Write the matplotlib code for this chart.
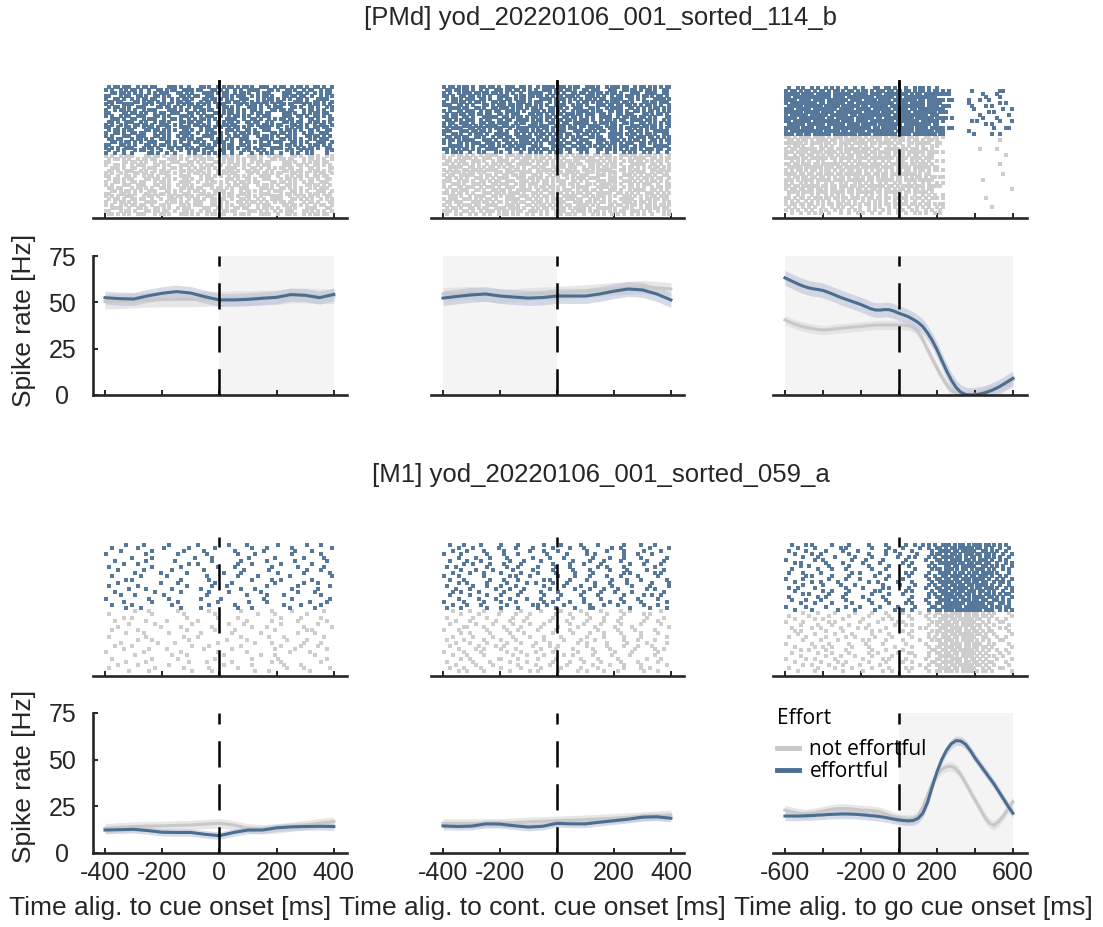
import matplotlib.pyplot as plt
from matplotlib.lines import Line2D
import numpy as np

plt.rcParams['font.family'] = ['Liberation Sans', 'DejaVu Sans']

EFF = '#4b6d8f'
NOT = '#c8c8c8'
EFF_DOT = '#56789a'
NOT_DOT = '#cdcdcd'
EFF_BAND = '#b7bed6'
NOT_BAND = '#dedede'
SHADE = '#f4f4f4'
INK = '#262626'

# ---- smoothed firing rates (Hz) ----
t_cue = np.arange(-400, 401, 50)
t_go = np.arange(-600, 601, 25)

pmd_cue_eff = [52.5, 52.0, 51.8, 53.5, 54.9, 55.8, 55.0, 53.0, 51.3, 51.3, 51.6, 52.2, 52.7, 54.2, 53.8, 52.5, 54.3]
pmd_cue_not = [50.4, 50.6, 51.0, 51.4, 51.5, 51.6, 51.6, 51.8, 52.0, 52.2, 52.3, 52.5, 52.8, 53.6, 53.8, 53.4, 53.3]
pmd_cont_eff = [52.3, 53.2, 54.0, 54.5, 53.4, 52.8, 52.3, 52.6, 53.4, 53.4, 53.4, 54.5, 56.0, 57.2, 56.7, 54.5, 51.3]
pmd_cont_not = [54.5, 54.8, 55.0, 54.2, 53.4, 53.8, 54.5, 54.8, 55.0, 55.5, 56.0, 56.6, 57.2, 57.8, 58.3, 57.8, 57.2]
pmd_go_eff = [63.2, 62.0, 60.8, 59.6, 58.6, 57.8, 57.3, 56.9, 56.4, 55.5, 54.5, 53.4, 52.4,
              51.5, 50.6, 49.7, 48.8, 47.7, 46.6, 45.9, 45.8, 46.1, 46.0, 45.2, 44.1,
              43.2, 42.2, 40.8, 39.2, 37.0, 33.6, 29.5, 24.5, 18.8, 13.2, 8.2, 4.2,
              1.5, 0.3, 0.0, 0.1, 0.5, 1.1, 2.0, 3.0, 4.3, 5.8, 7.4, 9.0]
pmd_go_not = [40.5, 39.4, 38.3, 37.4, 36.7, 36.2, 35.7, 35.3, 35.1, 35.2, 35.5, 35.8, 36.0,
              36.3, 36.6, 36.8, 37.0, 37.3, 37.5, 37.7, 37.8, 37.8, 37.8, 37.8, 37.8,
              37.7, 37.4, 36.5, 34.2, 30.0, 24.5, 19.5, 14.5, 9.8, 5.8, 2.5, 1.0,
              0.3, 0.0, 0.0, 0.4, 1.0, 1.8, 2.5, 3.3, 4.2, 5.3, 6.6, 8.1]

m1_cue_eff = [12.3, 12.5, 12.7, 12.0, 11.1, 11.0, 11.0, 10.0, 9.3, 11.0, 12.3, 12.3, 13.5, 14.0, 14.2, 14.3, 14.2]
m1_cue_not = [13.2, 13.8, 14.2, 14.4, 14.5, 14.8, 15.0, 15.5, 15.9, 15.0, 13.2, 12.8, 13.2, 14.0, 15.0, 16.0, 16.8]
m1_cont_eff = [14.5, 14.2, 14.4, 15.6, 15.5, 14.6, 13.9, 14.3, 15.9, 15.6, 15.6, 16.5, 17.3, 18.1, 19.2, 19.4, 18.6]
m1_cont_not = [15.9, 15.9, 15.9, 15.9, 16.0, 16.3, 16.7, 17.0, 17.3, 17.6, 17.9, 18.3, 18.6, 19.1, 19.6, 20.0, 20.4]
m1_go_eff = [19.8, 19.8, 19.8, 19.8, 19.9, 20.0, 20.1, 20.3, 20.4, 20.6, 20.7, 20.8, 20.9,
             20.9, 20.8, 20.7, 20.5, 20.3, 20.0, 19.8, 19.5, 19.1, 18.6, 18.1, 17.7,
             17.4, 17.2, 17.4, 18.5, 21.2, 27.0, 35.5, 43.5, 50.0, 55.0, 58.5, 60.2,
             60.0, 58.3, 55.0, 51.0, 47.5, 44.0, 40.5, 37.0, 33.0, 29.0, 25.0, 21.3]
m1_go_not = [23.0, 22.4, 21.8, 21.3, 20.9, 21.1, 21.5, 22.0, 22.5, 23.0, 23.5, 23.8, 23.9,
             23.8, 23.6, 23.3, 23.0, 22.9, 22.8, 22.5, 22.0, 21.2, 20.2, 19.3, 18.6,
             18.1, 17.9, 18.3, 20.0, 24.5, 31.0, 37.5, 42.0, 44.8, 46.2, 46.5, 45.2,
             42.0, 37.5, 33.0, 28.5, 24.0, 19.5, 16.0, 14.8, 16.8, 20.0, 23.8, 27.5]

# s.e.m. half-widths of the bands (Hz)
sem_pmd = [(3.5, 4.0), (4.0, 3.5), (4.0, 2.5)]
sem_m1 = [(2.0, 2.5), (2.0, 2.5), (2.5, 2.5)]

# ---- spike rasters: one hex string per trial, each bit one time bin (80 bins per window) ----
pmd_cue_ras_eff = [
    "5b96c3a4695ad3965a69", "a569359ec6a53c69a596", "36a95c6a3d65a5c39a56", "c59a6a359c6b95a36c95",
    "9a56c95a36a9c56a9a3c", "6c35a96c5a3695ac3a69", "a3c69a56a9c35a96c56a", "5a9c36a5c96a3a5c69a5",
    "96a5c3a96c5a9a36c5a9", "c36a59c6a35a96c3a56c", "a59c6a3a5c96a5c39a6a", "3a65c9a56a3c9a56c9a3",
    "69ca5a36c95a6ca3596a", "a5369ca5a96c35ac6a59", "c9a5a63c5a96a3c95a6c", "5ac36a9a5c3a69c5a9a6",
    "9a6c5a3c96a5ac36a59c", "a39c6a5a3c96c5a9a36a", "6c5a9a36c5a9c3a6a95c", "35a9c6a5a3c96a5c6a39",
    "c6a35a9c6a59a3c5a96a", "a9c5a36a9c5a6a3c95a6", "4a2c9125a4c8a5214a85", "9241a4852a4912a45284",
]
pmd_cue_ras_not = [
    "a5c369a5c96a3a5c69a5", "5a96c3a96c5a9a36c5a9", "c36a59c6a35a96c3a56c", "9a5c6a3a5c96a5c39a6a",
    "3a65c9a56a3c9a56c9a3", "69ca5a36c95a6ca3596a", "a5369ca5a96c35ac6a59", "c9a5a63c5a96a3c95a6c",
    "5ac36a9a5c3a69c5a9a6", "9a6c5a3c96a5ac36a59c", "a39c6a5a3c96c5a9a36a", "6c5a9a36c5a9c3a6a95c",
    "35a9c6a5a3c96a5c6a39", "c6a35a9c6a59a3c5a96a", "a9c5a36a9c5a6a3c95a6", "5a6c93a5a6c9a53c6a95",
    "96a3c5a9c6a35a96c5a3", "a56c9a35c6a9a5c36a59", "3c9a6a5c39a6c5a9a3c6", "c5a36c9a5a6c3a95c6a9",
    "6a9c5a3a96c5a3c9a56c",
]
pmd_cont_ras_eff = [
    "b5a6d39a5e6b3a5d96ab", "6da53b6a9d5a6e39b5a6", "a5db6a93e5a6db5a39e6", "d36a9e5b6a5d3a96eb5a",
    "5ae69b5a3d6ab59e6a3d", "9b5a6d3ae5a96b5da36e", "e6a35db6a9e5a3b6d5a9", "3d9a6eb5a6d39a5e6ab5",
    "a6e5b3a9d6a5eb369ad5", "5b6d9ae36a5db9a6e35a", "d9a3e6b5ad36a9e5b6a3", "6ae59b3d6a5ae96b3da5",
    "b3a6de59a6b3e5d9a6ab", "a9d5e6a3b96ade5a3b69", "5e6ab93d5a6e9b3ad56a", "e3b69a5d6ae3b59a6d3e",
    "9a5d3e6ab5d96a3eb5a6", "6d9a5b3e6ad59b3a6ed5", "b5e3a69d5ba6e39d5a6b", "a6b9d35ea6d9b35ae6a9",
    "3ea6d5b9a3e6d5ab963e", "d5a9e36b5ad9e36ab5d9", "5a4a2912a548a2495292",
]
pmd_cont_ras_not = [
    "96a5e3b6a9d5a6e3b5a9", "a5d39a6eb5a3d96a5e6b", "6b3a5e9d6a5b3ea96d5a", "d5a96b3e5a6d9b5a3e69",
    "3e6ad5a9b36e5ad96ab5", "a9b5e36a5d9a6be35a6d", "5d6a3b9e6a5d3ab96e5a", "b3e5a6d9a5b6e3a9d5a6",
    "6a9d5e3b6a95de3a6b59", "e5a6b39d5ae6a3b9d56a", "9d3a6e5b9a6d35ea6b93", "a6e5d39ab6a5e3d96a5b",
    "5b9a6d3e5ab96d3a5e6a", "d6a3b5e9a6d5b3e6a9d5", "3a5e6b9d5a3e6ba9d56e", "b9d5a3e6ab5d96a3e5b6",
    "6e3b5ad96ae3b5a9d6a5", "a5d9e3a6b5d9ea36b5ad", "5a6b3de95a6bd3e9a5b6", "e9a5d6b3a9e5d6ab3a95",
    "4a5296a5295a4a952a45",
]
pmd_go_ras_eff = [
    "4a52a4919a25a4", "b5ad6b5aedb5ad404018", "fbdf7efbdfeb7fc00420", "dfff7bfefdbff8000210",
    "f7bdfdef7bfdbf608900", "bfedfb7ffdefbe008014", "7dfbefdbf7ffbdc04280", "efbfdf7dfbedff002009",
    "fdf7bfefbdf7fb800140", "bf7efdbffb7fdc000802", "f7fdbf7edffbf7a00420", "dfbfef7bfdfefd005011",
    "7efdfbdf7fbfec000280", "fbdf7ffdbefbdf600046", "bffbedf7fdfbf7008000", "edbf7fbdfef7fb002090",
]
pmd_go_ras_not = [
    "d7bd75ebd7da6d", "6b5ed7b6dad6b4000010", "fd7b5efb7d9be6", "5a4a952a4a5294",
    "b7edb7dd9f6ed0000820", "ef7bd6fb7bdfbd", "96d5ab6d5ad6b0000004", "fb7edf7bfd6f7",
    "2a9452a5294aa5", "dbb7ed7bd7edd0000010", "7dfbb7dfbdf7ec", "ad6b5b6ad5b5ad",
    "f6dbb7edb7fd60000008", "5b6d5ad6b5ab5b", "ebdf7bf6fdbdf0000400", "a55294aa5294a5",
    "dbf6ddb7ed7bbe", "b6dadb6b5ad6b0000001", "7bdefb7edfb7d", "4a52a94a52a4a9",
    "d6bb6dd6db6b5d000200", "a9552a9552a4a", "b6d5b6ad5b6d6b", "52a4a9254a92a5000080",
    "a94a52a5294a52", "24a9125249254a",
]
m1_cue_ras_eff = [
    "01040200801040080210", "20100804020010804001", "04008010200401002080", "80020040100208004010",
    "00408001040020100408", "10020080040100802004", "02100004800210040080", "40008020010400201008",
    "08040100200080400210", "00201008004100080402", "20080400100204008001", "01400020080010240080",
    "08001040020800100420", "40100008042000801002", "00820100400108004020", "10004020081002001040",
    "04200800100040820010", "80010200408001004002", "02008040010020800104", "20400100080400020810",
    "01080020400210008040",
]
m1_cue_ras_not = [
    "00210040080100204008", "40008010020004100200", "02400008010200040810", "10020400800040201004",
    "00804002001080040020", "08001020040010800401", "20100008020400100280", "01040200400802001040",
    "40020010800100420008", "00108004002040010200", "04002080010008200410", "10400002080100040820",
    "02010400200800102004", "80040020010040008100", "00200108004002100040", "20008040020010080004",
    "01020004100800240010", "08100200004010020800", "40004010080200010402", "00810002040008400100",
]
m1_cont_ras_eff = [
    "21040820104082010420", "04201041020840120081", "10820402108020410208", "82010420081024010840",
    "04108201042008210402", "20840108200410820104", "01208410020841004208", "48010220410802410020",
    "02104081020410208104", "10420810410208014028", "84020142008210420810", "21008420140820108402",
    "04810204821004208041", "40210840102084102081", "08402108040210840120", "12080410208041082004",
    "20410820104082010248", "04082104208041020810", "81020840120840210402", "10840201482010840210",
    "42010820410218004082",
]
m1_cont_ras_not = [
    "10420810204081024008", "02081042010820410280", "40210084020410820104", "08402108041020840210",
    "20104082100841020408", "01820410208104082001", "84010220410802041020", "02408108020410820410",
    "10204082104020810402", "41020840102084010820", "08410210840120408102", "20082401048020410840",
    "04120840210408201024", "81040210820104082010", "10820084102408104020", "02401820410082040108",
    "40208104020841020810", "08104020841008210402", "21040810204082010480", "04820102408120840210",
]
m1_go_ras_eff = [
    "214082041024a9d6bb54", "08201402084126b7da92", "41020840120813dbe6a4", "10480204108216b5db49",
    "02104082011429ed6b52", "80240108202046bdae94", "14020810404813f6db25", "04810204081028dbe6a9",
    "20108402100416eb5d4a", "42080120402823d6b7a2", "01408201081049bd6e94", "82010420104026dbbd29",
    "10482004810813edb65a", "02041080208429b6de92", "48200410281046df5ba5", "10048201402813b6ed49",
    "02810402084029edab56", "40120810200826f6bda9", "21080404101043dbb66a", "04208102082826fefd9a",
    "81020420410419fdfeb6", "10402081024826effb95",
]
m1_go_ras_not = [
    "02104082104126bdb542", "40810204081049edb681", "10240810240823b7d924", "82014020814016dbe518",
    "04108204022825ebda42", "20481048100143bd6914", "14020802404816edb582", "08204102081025b7da41",
    "41020481040829dbe624", "02082014104116ebd518", "80410208202043bdb942", "10248104020826edb681",
    "04820402104019b7d524", "20108204811826dbea12", "04021082040423ebd548", "81204010282046bd6a21",
    "10082404104819edb584", "02410820400126b7da42", "40104102082843dbe518", "08200810241026ebd681",
]

ticks_cue = [-400, -200, 0, 200, 400]
ticklabels_cue = ['-400', '-200', '0', '200', '400']
ticks_go = [-600, -400, -200, 0, 200, 400, 600]
ticklabels_go = ['-600', '', '-200', '0', '200', '', '600']
rate_ticks = [0, 25, 50, 75]

xlabels = ['Time alig. to cue onset [ms]', 'Time alig. to cont. cue onset [ms]',
           'Time alig. to go cue onset [ms]']
titles = ['[PMd] yod_20220106_001_sorted_114_b', '[M1] yod_20220106_001_sorted_059_a']
legend_labels = ['not effortful', 'effortful']

# ---- layout in pixels ----
W, H = 1103, 927
fig = plt.figure(figsize=(W / 100, H / 100), dpi=100)


def add_px_axes(x0, x1, ytop, ybot):
    return fig.add_axes([x0 / W, 1 - ybot / H, (x1 - x0) / W, (ybot - ytop) / H])


col_px = [(93, 347), (431, 684), (773, 1027)]
raster_px = [(80, 218), (537, 676)]
psth_px = [(256, 395), (713, 853)]
xlims = [(-442, 446), (-442, 446), (-663, 674)]
windows = [(-400, 10.0), (-400, 10.0), (-600, 15.0)]   # start and bin width of raster bins

DASH = (0, (10.5, 6.7))
DOT = 2.3


def decode(rows, t0, binw, base):
    xs, ys = [], []
    for i, row in enumerate(rows):
        bits = ''.join(format(int(ch, 16), '04b') for ch in row)
        for b, bit in enumerate(bits):
            if bit == '1':
                xs.append(t0 + (b + 0.5) * binw)
                ys.append(base + len(rows) - 1 - i + 0.5)
    return xs, ys


def base_style(ax, col, left=False):
    ax.set_xlim(*xlims[col])
    ax.spines['top'].set_visible(False)
    ax.spines['right'].set_visible(False)
    ax.spines['left'].set_visible(left)
    for sp in ax.spines.values():
        sp.set_linewidth(1.9)
        sp.set_color(INK)
    ax.tick_params(direction='in', length=3.5, width=1.4, color=INK,
                   labelsize=18, labelcolor=INK, pad=6)
    if col == 2:
        ax.set_xticks(ticks_go)
    else:
        ax.set_xticks(ticks_cue)
    if not left:
        ax.tick_params(left=False, labelleft=False)


rates = [
    [(pmd_cue_eff, pmd_cue_not), (pmd_cont_eff, pmd_cont_not), (pmd_go_eff, pmd_go_not)],
    [(m1_cue_eff, m1_cue_not), (m1_cont_eff, m1_cont_not), (m1_go_eff, m1_go_not)],
]
rasters = [
    [(pmd_cue_ras_eff, pmd_cue_ras_not), (pmd_cont_ras_eff, pmd_cont_ras_not),
     (pmd_go_ras_eff, pmd_go_ras_not)],
    [(m1_cue_ras_eff, m1_cue_ras_not), (m1_cont_ras_eff, m1_cont_ras_not),
     (m1_go_ras_eff, m1_go_ras_not)],
]
sems = [sem_pmd, sem_m1]
shaded = [
    [(0, 400), (-400, 0), (-600, 600)],
    [None, None, (0, 600)],
]

for r in range(2):
    for c in range(3):
        x0, x1 = col_px[c]
        t0, binw = windows[c]

        # raster
        ax = add_px_axes(x0, x1, *raster_px[r])
        base_style(ax, c)
        ax.tick_params(labelbottom=False)
        eff_rows, not_rows = rasters[r][c]
        n_not, n_eff = len(not_rows), len(eff_rows)
        xs, ys = decode(not_rows, t0, binw, 0)
        ax.plot(xs, ys, 's', ms=DOT, mew=0, color=NOT_DOT)
        xs, ys = decode(eff_rows, t0, binw, n_not)
        ax.plot(xs, ys, 's', ms=DOT, mew=0, color=EFF_DOT)
        top = n_not + n_eff + 2
        ax.set_ylim(-1, top)
        ax.axvline(0, color='k', lw=1.8, linestyle=DASH, zorder=3)
        if r == 0:
            ax.plot([0, 0], [n_not, top], color='k', lw=1.8, zorder=3)

        # firing rate
        ax = add_px_axes(x0, x1, *psth_px[r])
        base_style(ax, c, left=(c == 0))
        ax.set_ylim(0, 75)
        if c == 0:
            ax.set_yticks(rate_ticks, [str(v) for v in rate_ticks], ha='center')
            ax.tick_params(axis='y', pad=22)
        if r == 0:
            ax.tick_params(labelbottom=False)
        elif c == 2:
            ax.set_xticks(ticks_go, ticklabels_go)
        else:
            ax.set_xticks(ticks_cue, ticklabels_cue)
        if shaded[r][c] is not None:
            ax.axvspan(*shaded[r][c], color=SHADE, lw=0, zorder=0)
        t = t_go if c == 2 else t_cue
        eff, nott = (np.array(v) for v in rates[r][c])
        s_eff, s_not = sems[r][c]
        ax.fill_between(t, nott - s_not, nott + s_not, color=NOT_BAND, alpha=0.7, lw=0, zorder=1)
        ax.plot(t, nott, color=NOT, lw=2.2, zorder=2)
        ax.fill_between(t, eff - s_eff, eff + s_eff, color=EFF_BAND, alpha=0.55, lw=0, zorder=1.5)
        ax.plot(t, eff, color=EFF, lw=2.2, zorder=2.5)
        ax.axvline(0, color='k', lw=1.8, linestyle=DASH, zorder=3)

        if r == 1 and c == 2:
            handles = [Line2D([], [], color=NOT, lw=3.5), Line2D([], [], color=EFF, lw=3.5)]
            ax.legend(handles, legend_labels, loc='upper left',
                      bbox_to_anchor=(773 / W, 1 - 735 / H),
                      bbox_transform=fig.transFigure, frameon=False,
                      prop={'family': 'Open Sans', 'size': 15},
                      handlelength=1.05, handletextpad=0.5, labelspacing=0.05,
                      borderpad=0.2, borderaxespad=0)

fig.text(777 / W, 1 - 718 / H, 'Effort', ha='left', va='center',
         family='Open Sans', fontsize=15, color='k')

for y, title in zip([18, 475], titles):
    fig.text(601 / W, 1 - y / H, title, ha='center', va='center', fontsize=18.5, color=INK)

for x, label in zip([170, 532, 913], xlabels):
    fig.text(x / W, 1 - 908 / H, label, ha='center', va='center', fontsize=19, color=INK)

for y in [320, 776]:
    fig.text(24 / W, 1 - y / H, 'Spike rate [Hz]', ha='center', va='center',
             rotation=90, fontsize=19, color=INK)

fig.savefig('out.png', dpi=100)
